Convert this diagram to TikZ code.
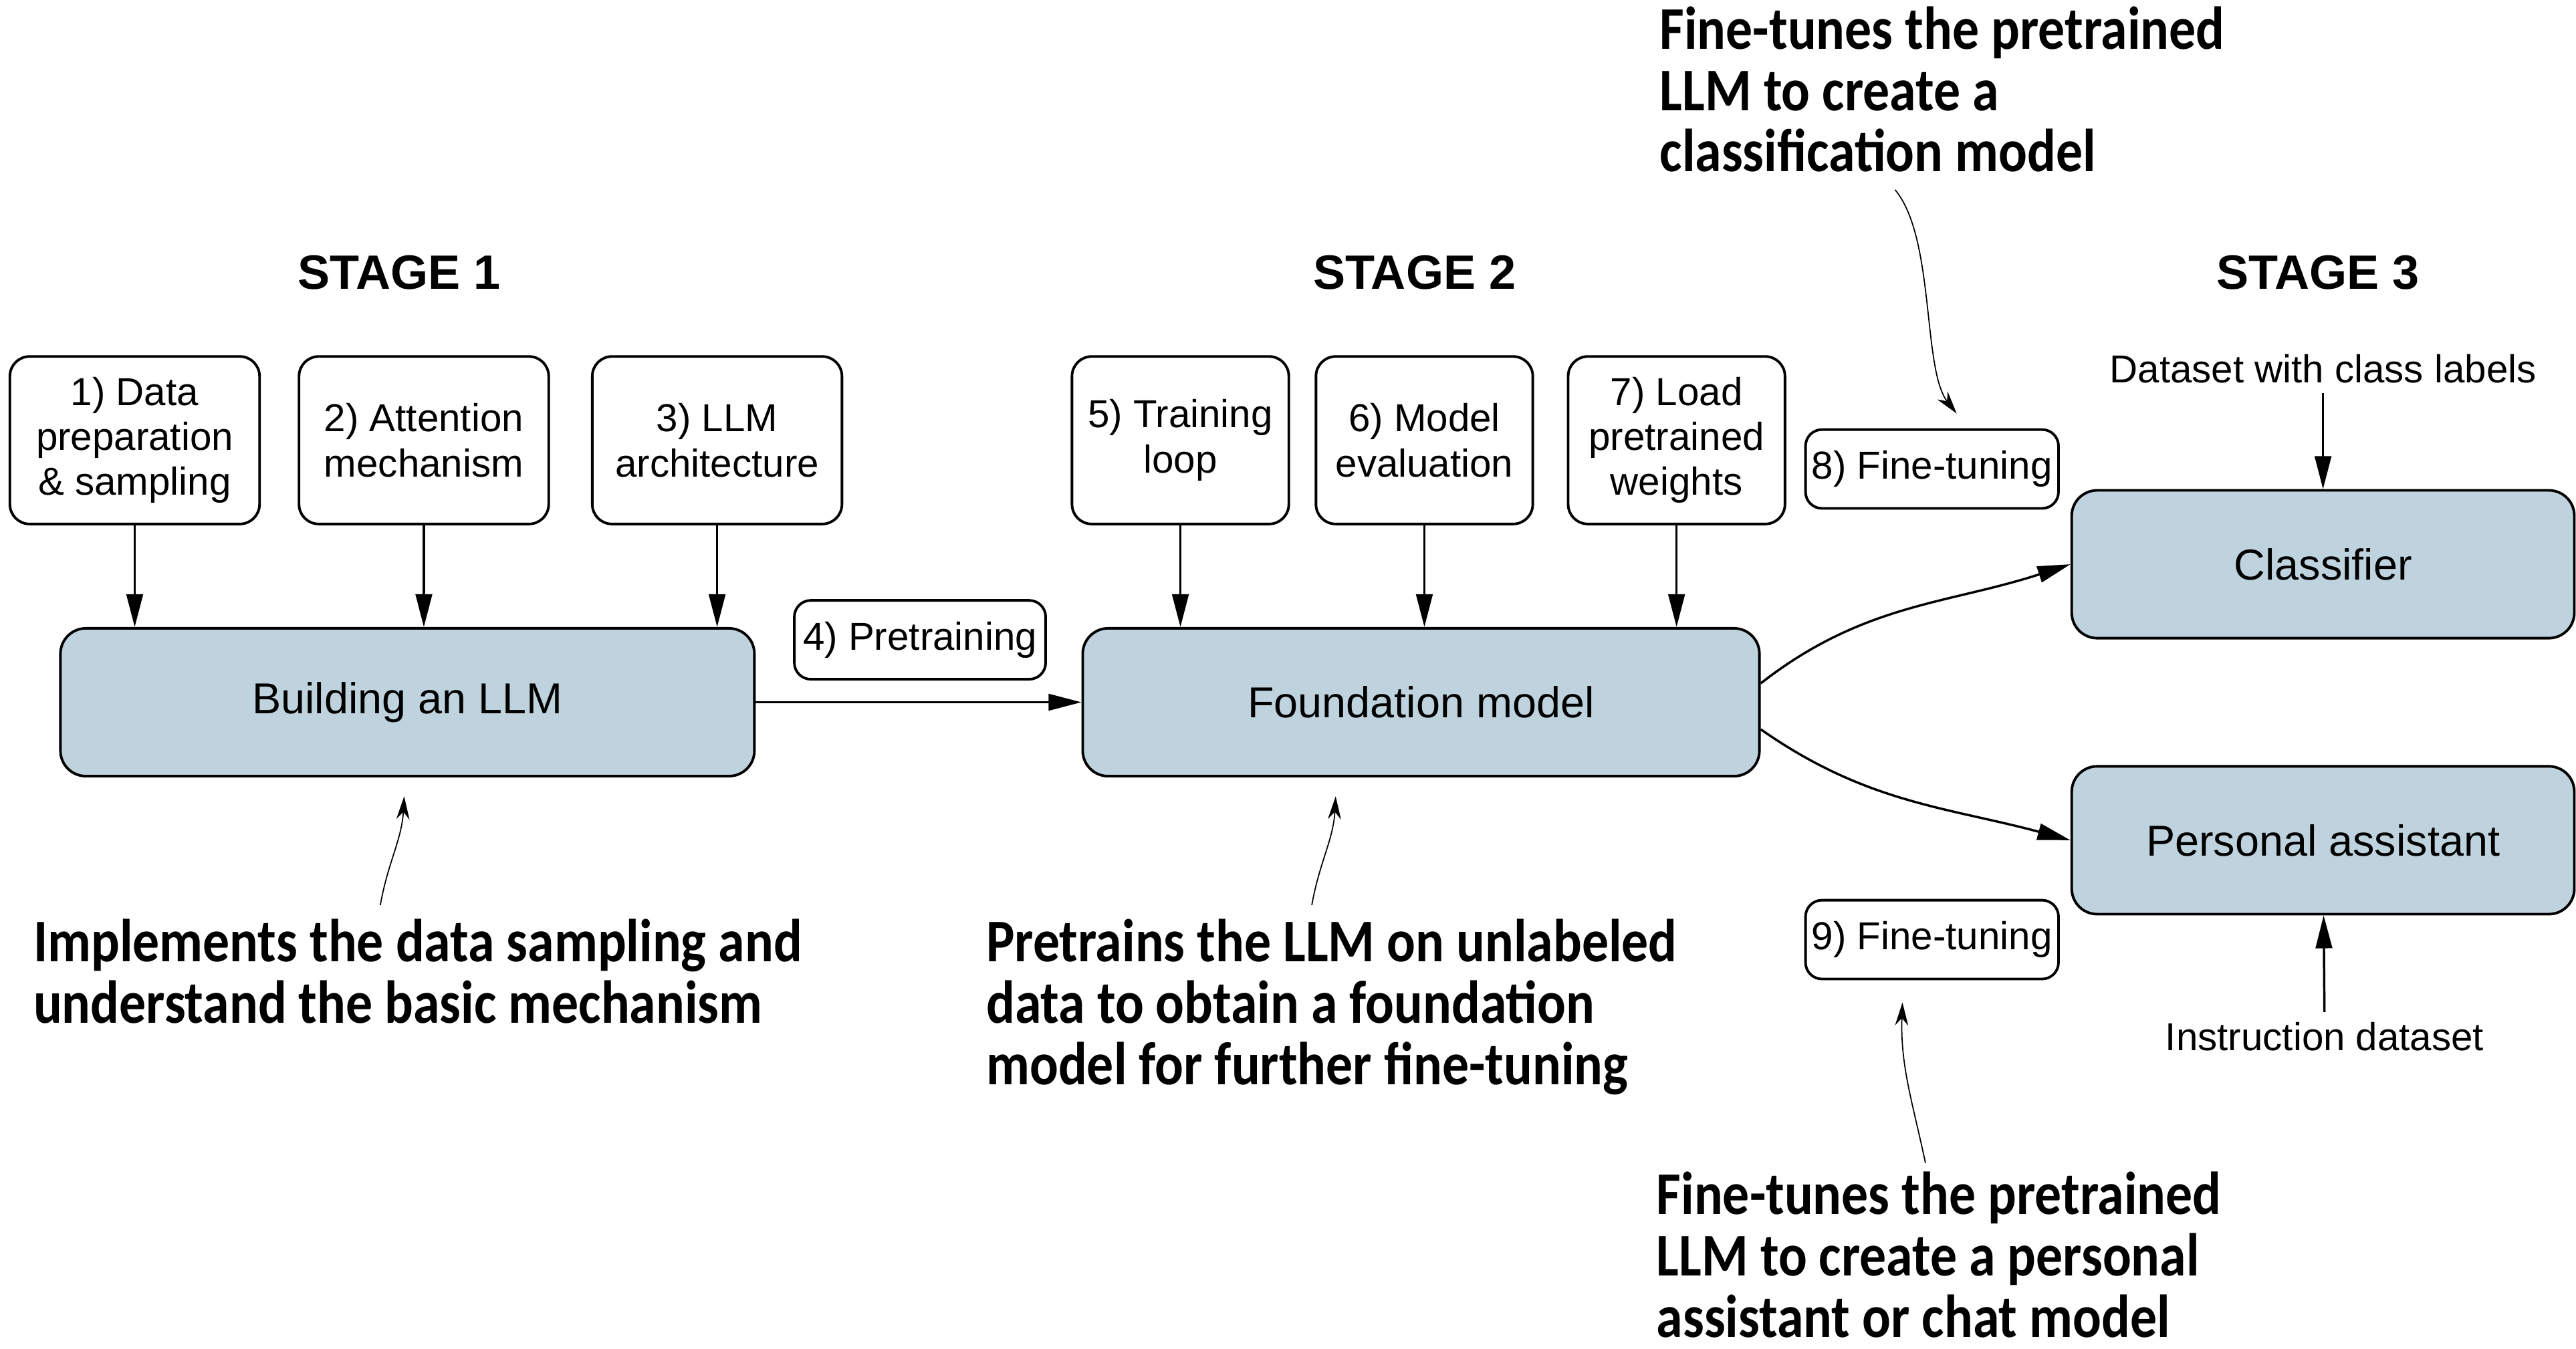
\documentclass[tikz,border=0pt]{standalone}
\usepackage{fontspec}
\setmainfont{Liberation Sans}
\newfontfamily\notefont[FakeStretch=0.88]{Carlito}
\usetikzlibrary{arrows.meta}
\definecolor{boxblue}{RGB}{191,211,222}
\tikzset{taskbox/.style={draw,line width=.9pt,rounded corners=.24cm,align=center,minimum height=2.04cm,inner sep=2pt,font=\fontsize{13.5}{15.6}\selectfont},
mainbox/.style={draw,line width=.9pt,fill=boxblue,rounded corners=.31cm,minimum height=1.8cm,font=\fontsize{15}{18}\selectfont},
tagbox/.style={draw,line width=.9pt,rounded corners=.2cm,minimum width=3.06cm,minimum height=.96cm,inner sep=0pt,font=\fontsize{13.5}{15.6}\selectfont},
note/.style={anchor=north west,align=left,inner sep=0pt,font=\notefont\bfseries\fontsize{21}{21.3}\selectfont},
arr/.style={line width=.8pt,-{Triangle[length=.4cm,width=.2cm]}},
notearr/.style={line width=.4pt,-{Stealth[length=.28cm,width=.16cm]}}}
\begin{document}
\begin{tikzpicture}[x=.02cm,y=-.02cm]
\useasboundingbox (0,0) rectangle (1568,821);
\foreach \x/\n in {243/1,861/2,1411/3}{\node[font=\bfseries\fontsize{16.7}{20}\selectfont] (stage\n) at (\x,166){STAGE \n};}
\node[taskbox,minimum width=3.04cm] (b1) at (82,268){1) Data\\preparation\\\& sampling};
\node[taskbox,minimum width=3.04cm] (b2) at (258,268){2) Attention\\mechanism};
\node[taskbox,minimum width=3.04cm] (b3) at (436.5,268){3) LLM\\architecture};
\node[taskbox,minimum width=2.64cm] (b5) at (718.5,268){5) Training\\loop};
\node[taskbox,minimum width=2.64cm] (b6) at (867,268){6) Model\\evaluation};
\node[taskbox,minimum width=2.64cm] (b7) at (1020.5,268){7) Load\\pretrained\\weights};
\node[mainbox,minimum width=8.45cm] (build) at (248,427.5){Building an LLM};
\node[mainbox,minimum width=8.24cm] (found) at (865,427.5){Foundation model};
\node[mainbox,minimum width=6.12cm] (clf) at (1414,343.5){Classifier};
\node[mainbox,minimum width=6.12cm] (pa) at (1414,511.5){Personal assistant};
\node[tagbox] (pre) at (560,389.5){4) Pretraining};
\node[tagbox,minimum width=3.08cm] (ft8) at (1176,285.5){8) Fine-tuning};
\node[tagbox,minimum width=3.08cm] (ft9) at (1176,572){9) Fine-tuning};
\node[font=\fontsize{13.5}{16}\selectfont] (cls) at (1414,224.5){Dataset with class labels};
\node[font=\fontsize{13.5}{16}\selectfont] (ins) at (1415,631){Instruction dataset};
\node[note] (note1) at (20,559){Implements the data sampling and\\understand the basic mechanism};
\node[note] (note2) at (600,559){Pretrains the LLM on unlabeled\\data to obtain a foundation\\model for further fine-tuning};
\node[note] (note8) at (1010,3.5){Fine-tunes the pretrained\\LLM to create a\\classification model};
\node[note] (note9) at (1008,713){Fine-tunes the pretrained\\LLM to create a personal\\assistant or chat model};
\foreach \b in {b1,b2,b3}{\draw[arr] (\b.south) -- (\b.south |- build.north);}
\foreach \b in {b5,b6,b7}{\draw[arr] (\b.south) -- (\b.south |- found.north);}
\draw[arr] (build) -- (found);
\draw[arr] ([yshift=.23cm]found.east) to[out=38,in=198] (clf.west);
\draw[arr] ([yshift=-.33cm]found.east) to[out=-35,in=165] (pa.west);
\draw[arr] (cls) -- (clf);\draw[arr] (ins) -- (pa);
\coordinate (n1) at (231.5,551);\coordinate (n2) at (798.5,551);\coordinate (n8) at (1153.5,115.5);\coordinate (n9) at (1172,708);
\draw[notearr] (n1) to[out=80,in=-93] ([xshift=-.04cm,yshift=-.23cm]build.south);
\draw[notearr] (n2) to[out=80,in=-93] ([xshift=-1.04cm,yshift=-.23cm]found.south);
\draw[notearr] (n8) .. controls (1178,145) and (1170,225) .. ([xshift=.3cm,yshift=.18cm]ft8.north);
\draw[notearr] (n9) to[out=102,in=-92] ([xshift=-.36cm,yshift=-.27cm]ft9.south);
\end{tikzpicture}
\end{document}
